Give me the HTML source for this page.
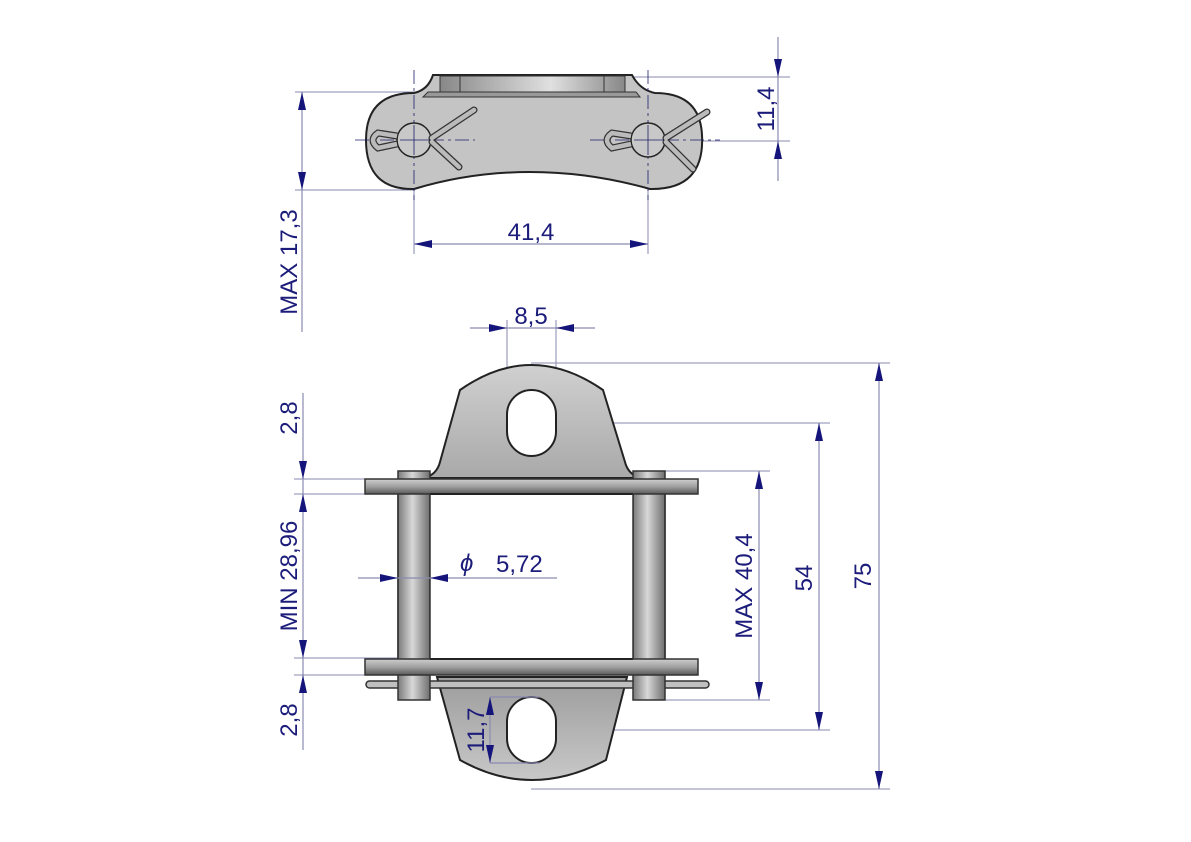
<!DOCTYPE html>
<html><head><meta charset="utf-8"><style>
html,body{margin:0;padding:0;background:#fff;}
svg{display:block}
text{font-family:"Liberation Sans",sans-serif;fill:#1c1c7a;font-size:24px}
</style></head><body>
<svg width="1191" height="842" viewBox="0 0 1191 842" xmlns="http://www.w3.org/2000/svg">
<defs>
<linearGradient id="pin" x1="0" x2="1" y1="0" y2="0">
<stop offset="0" stop-color="#7a7a7a"/><stop offset="0.45" stop-color="#d8d8d8"/><stop offset="1" stop-color="#6e6e6e"/></linearGradient>
<linearGradient id="plate" x1="0" x2="0" y1="0" y2="1">
<stop offset="0" stop-color="#cfcfcf"/><stop offset="0.5" stop-color="#a0a0a0"/><stop offset="1" stop-color="#5a5a5a"/></linearGradient>
<linearGradient id="tab" x1="0" x2="0" y1="0" y2="1">
<stop offset="0" stop-color="#d0d0d0"/><stop offset="1" stop-color="#a9a9a9"/></linearGradient>
<linearGradient id="tabb" x1="0" x2="0" y1="0" y2="1">
<stop offset="0" stop-color="#9c9c9c"/><stop offset="1" stop-color="#c8c8c8"/></linearGradient>
<linearGradient id="toptab" x1="0" x2="1">
<stop offset="0" stop-color="#888"/><stop offset="0.6" stop-color="#e0e0e0"/><stop offset="1" stop-color="#888"/></linearGradient>
</defs>

<!-- ===== TOP VIEW ===== -->
<g stroke="#8a8ab0" stroke-width="1" fill="none">
<line x1="295" y1="92" x2="415" y2="92"/>
<line x1="295" y1="190" x2="415" y2="190"/>
<line x1="414" y1="190" x2="414" y2="254"/>
<line x1="648" y1="190" x2="648" y2="254"/>
<line x1="632" y1="77" x2="790" y2="77"/>
<line x1="700" y1="141" x2="790" y2="141"/>
</g>
<path d="M433,75 L632,75 Q640,90 655,93 L655,93 Q700,93 702,135 Q705,190 650,189 Q590,172 530,172 Q470,172 414,189 Q366,190 366,140 Q366,93 414,93 Q428,90 433,75 Z" fill="#c4c4c4" stroke="#222" stroke-width="2"/>
<rect x="440" y="76" width="185" height="16" fill="url(#toptab)" stroke="#333" stroke-width="1"/>
<line x1="460" y1="76" x2="460" y2="92" stroke="#333"/>
<line x1="604" y1="76" x2="604" y2="92" stroke="#333"/>
<path d="M423,97 L640,97 L636,92 L428,92 Z" fill="#999" stroke="#333" stroke-width="1"/>
<g stroke="#1c1c6a" stroke-width="0.8" stroke-dasharray="14,4,3,4">
<line x1="414" y1="70" x2="414" y2="200"/>
<line x1="648" y1="70" x2="648" y2="200"/>
<line x1="355" y1="140" x2="475" y2="140"/>
<line x1="590" y1="140" x2="720" y2="140"/>
</g>
<g fill="#c8c8c8" stroke="#222" stroke-width="1.5">
<circle cx="414" cy="140" r="17"/><circle cx="648" cy="140" r="17"/>
</g>
<g stroke="#333" stroke-width="7" stroke-linecap="round" fill="none">
<line x1="432" y1="138" x2="474" y2="110"/><line x1="432" y1="142" x2="459" y2="167"/>
<line x1="666" y1="138" x2="707" y2="112"/><line x1="666" y1="142" x2="693" y2="169"/>
</g>
<g stroke="#bbb" stroke-width="4.5" stroke-linecap="round" fill="none">
<line x1="432" y1="138" x2="474" y2="110"/><line x1="432" y1="142" x2="459" y2="167"/>
<line x1="666" y1="138" x2="707" y2="112"/><line x1="666" y1="142" x2="693" y2="169"/>
</g>
<g fill="none" stroke="#333" stroke-width="7"><path d="M397,136 L378,133 Q368,140 378,148 L397,144"/><path d="M631,136 L612,133 Q602,140 612,148 L631,144"/></g>
<g fill="none" stroke="#bbb" stroke-width="4.5"><path d="M397,136 L378,133 Q368,140 378,148 L397,144"/><path d="M631,136 L612,133 Q602,140 612,148 L631,144"/></g>
<g stroke="#1c1c6a" stroke-width="0.8"><line x1="414" y1="125" x2="414" y2="155"/><line x1="648" y1="125" x2="648" y2="155"/><line x1="400" y1="140" x2="430" y2="140"/><line x1="634" y1="140" x2="664" y2="140"/></g>

<!-- top view dims -->
<g stroke="#8a8ab0" stroke-width="1.2">
<line x1="302" y1="92" x2="302" y2="332"/>
<line x1="414" y1="244" x2="648" y2="244"/>
<line x1="778" y1="37" x2="778" y2="181"/>
</g>
<g fill="#14147a">
<path d="M302,92 l-4,18 h8z"/><path d="M302,190 l-4,-18 h8z"/>
<path d="M414,244 l18,-4 v8z"/><path d="M648,244 l-18,-4 v8z"/>
<path d="M778,77 l-4,-18 h8z"/><path d="M778,141 l-4,18 h8z"/>
</g>
<text x="531" y="240" text-anchor="middle">41,4</text>
<text transform="translate(297,262) rotate(-90)" text-anchor="middle">MAX 17,3</text>
<text transform="translate(774,109) rotate(-90)" text-anchor="middle">11,4</text>

<!-- ===== FRONT VIEW ===== -->
<g stroke="#8a8ab0" stroke-width="1" fill="none">
<line x1="507" y1="320" x2="507" y2="392"/>
<line x1="556" y1="320" x2="556" y2="423"/>
<line x1="531" y1="363" x2="890" y2="363"/>
<line x1="556" y1="423" x2="830" y2="423"/>
<line x1="665" y1="471" x2="770" y2="471"/>
<line x1="665" y1="700" x2="770" y2="700"/>
<line x1="556" y1="730" x2="830" y2="730"/>
<line x1="531" y1="789" x2="890" y2="789"/>
<line x1="294" y1="479" x2="398" y2="479"/>
<line x1="294" y1="494" x2="398" y2="494"/>
<line x1="294" y1="658" x2="398" y2="658"/>
<line x1="294" y1="675" x2="398" y2="675"/>
</g>
<path d="M460,390 Q531,340 603,390 L625,462 Q628,474 640,478 L425,478 Q437,474 440,462 Z" fill="url(#tab)" stroke="#222" stroke-width="2"/>
<rect x="507" y="390" width="49" height="66" rx="24.5" fill="#fff" stroke="#222" stroke-width="2"/>
<path d="M437,677 L627,677 L606,760 Q531,800 460,760 Z" fill="url(#tabb)" stroke="#222" stroke-width="2"/>
<rect x="507" y="697" width="49" height="66" rx="24.5" fill="#fff" stroke="#222" stroke-width="2"/>
<rect x="366" y="681" width="343" height="7" rx="3.5" fill="#c0c0c0" stroke="#333" stroke-width="1.5"/>
<rect x="398" y="471" width="32" height="229" fill="url(#pin)" stroke="#333" stroke-width="1.5"/>
<rect x="633" y="471" width="32" height="229" fill="url(#pin)" stroke="#333" stroke-width="1.5"/>
<rect x="365" y="479" width="333" height="15" fill="url(#plate)" stroke="#333" stroke-width="1.5"/>
<rect x="365" y="659" width="333" height="16" fill="url(#plate)" stroke="#333" stroke-width="1.5"/>
<rect x="430" y="494" width="203" height="165" fill="#fff"/>
<line x1="430" y1="494" x2="633" y2="494" stroke="#222" stroke-width="2"/>
<line x1="430" y1="659" x2="633" y2="659" stroke="#222" stroke-width="2"/>
<line x1="398" y1="494" x2="398" y2="659" stroke="#333" stroke-width="1.5"/>
<line x1="430" y1="494" x2="430" y2="659" stroke="#333" stroke-width="1.5"/>
<line x1="633" y1="494" x2="633" y2="659" stroke="#333" stroke-width="1.5"/>
<line x1="665" y1="494" x2="665" y2="659" stroke="#333" stroke-width="1.5"/>

<g stroke="#8a8ab0" stroke-width="1.2" fill="none">
<line x1="470" y1="328" x2="595" y2="328"/>
<line x1="879" y1="363" x2="879" y2="789"/>
<line x1="819" y1="423" x2="819" y2="730"/>
<line x1="759" y1="471" x2="759" y2="700"/>
<line x1="303" y1="393" x2="303" y2="750"/>
<line x1="358" y1="578" x2="557" y2="578"/>
<line x1="490" y1="697" x2="540" y2="697"/>
<line x1="490" y1="763" x2="540" y2="763"/>
<line x1="490" y1="697" x2="490" y2="763"/>
</g>
<g fill="#14147a">
<path d="M507,328 l-18,-4 v8z"/><path d="M556,328 l18,-4 v8z"/>
<path d="M879,363 l-4,18 h8z"/><path d="M879,789 l-4,-18 h8z"/>
<path d="M819,423 l-4,18 h8z"/><path d="M819,730 l-4,-18 h8z"/>
<path d="M759,471 l-4,18 h8z"/><path d="M759,700 l-4,-18 h8z"/>
<path d="M303,479 l-4,-18 h8z"/><path d="M303,494 l-4,18 h8z"/>
<path d="M303,658 l-4,-18 h8z"/><path d="M303,675 l-4,18 h8z"/>
<path d="M398,578 l-18,-4 v8z"/><path d="M430,578 l18,-4 v8z"/>
<path d="M490,697 l-4,18 h8z"/><path d="M490,763 l-4,-18 h8z"/>
</g>
<text x="531" y="324" text-anchor="middle">8,5</text>
<text transform="translate(871,576) rotate(-90)" text-anchor="middle">75</text>
<text transform="translate(812,578) rotate(-90)" text-anchor="middle">54</text>
<text transform="translate(752,586) rotate(-90)" text-anchor="middle">MAX 40,4</text>
<text transform="translate(297,418) rotate(-90)" text-anchor="middle">2,8</text>
<text transform="translate(297,576) rotate(-90)" text-anchor="middle">MIN 28,96</text>
<text transform="translate(297,720) rotate(-90)" text-anchor="middle">2,8</text>
<text transform="translate(484,730) rotate(-90)" text-anchor="middle">11,7</text>
<text x="460" y="571" font-style="italic">ϕ</text>
<text x="496" y="572">5,72</text>
</svg>
</body></html>
